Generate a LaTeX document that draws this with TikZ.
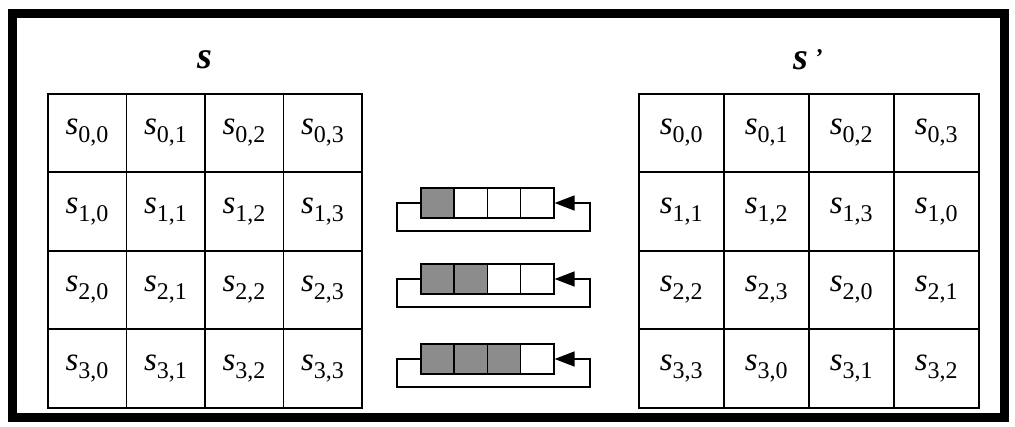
\documentclass[tikz,border=0pt]{standalone}
\usepackage{fontspec}
\setmainfont{Liberation Serif}
\usetikzlibrary{positioning,arrows.meta}
\definecolor{shaded}{gray}{0.55}
\tikzstyle{cell}=[rectangle, draw=black, line width=1.6pt, minimum width=78.5pt, minimum height=78.5pt,
        inner sep=0pt, anchor=north west]
\tikzstyle{widecell}=[cell, minimum width=85pt]
\tikzstyle{slot}=[rectangle, draw=black, line width=1.6pt, minimum width=33.25pt, minimum height=30pt,
        inner sep=0pt, anchor=west, fill=white]
\tikzstyle{fullslot}=[slot, fill=shaded]
\tikzstyle{loop}=[line width=1.6pt, -{Triangle[length=20pt,width=15pt]}]
\newcommand{\sv}[2]{{\fontsize{33}{36}\selectfont\itshape s}\raisebox{-8pt}{\fontsize{24}{28}\selectfont #1,#2}}
\newcommand{\headfont}{\fontsize{38}{44}\selectfont\bfseries\itshape}

\begin{document}
\begin{tikzpicture}[x=1pt, y=-1pt]
	\useasboundingbox (0,0) rectangle (1015,427);

	\node (Frame) [draw=black, line width=9pt, minimum width=992pt, minimum height=404pt] at (508,216) {};

	\node (HeadS) at (205,60) {\headfont s};
	\node (HeadSprime) at (808,60) {\headfont s\,\raisebox{4pt}{\fontsize{24}{28}\selectfont '}};

	% state before and after the row shifts
	\foreach \r in {0,...,3}
	\foreach \c in {0,...,3} {
		\pgfmathtruncatemacro{\k}{mod(\r+\c,4)}
		\node (L\r\c) [cell] at (47+78.5*\c, 93+78.5*\r) {\sv{\r}{\c}};
		\node (R\r\c) [widecell] at (638+85*\c, 93+78.5*\r) {\sv{\r}{\k}};
	}

	% rotating registers
	\foreach \r/\y in {1/203, 2/279, 3/359} {
		\foreach \c in {0,...,3} {
			\ifnum\c<\r \def\st{fullslot}\else \def\st{slot}\fi
			\node (Reg\r\c) [\st] at (420+33.25*\c, \y) {};
		}
		\draw[loop] (Reg\r0.west) -- ++(-23,0) |- ++(193,28) |- (Reg\r3.east);
	}
\end{tikzpicture}
\end{document}
